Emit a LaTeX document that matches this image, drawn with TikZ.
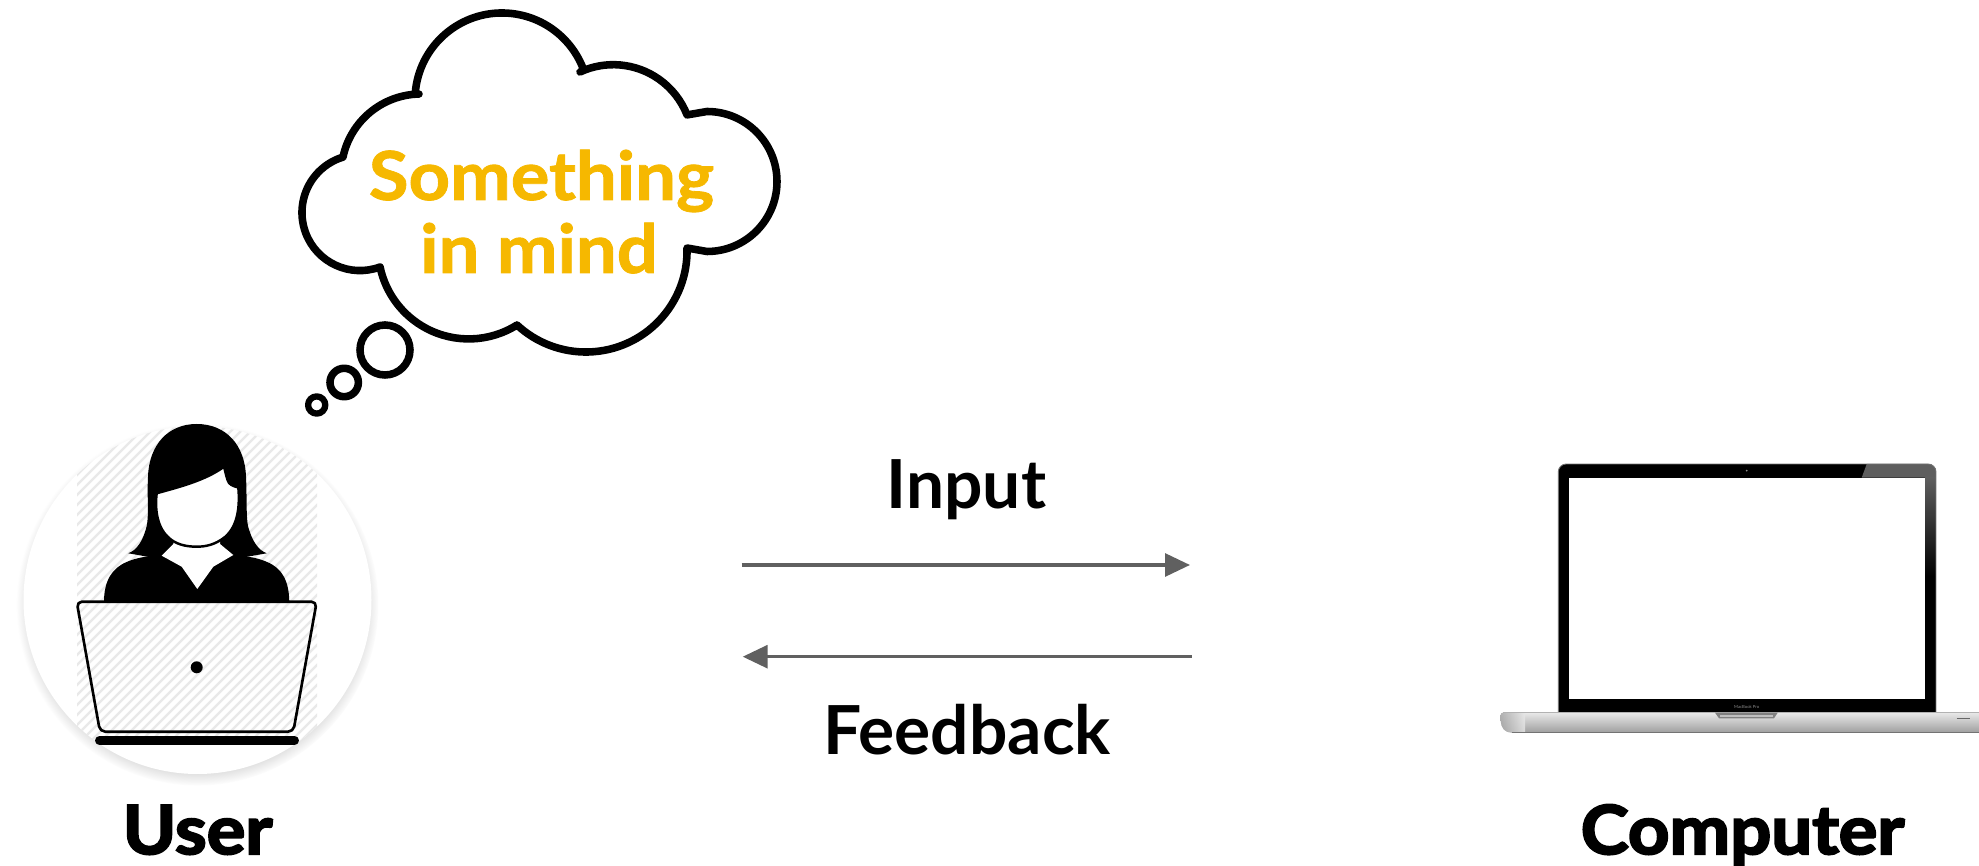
\documentclass[tikz,border=0pt]{standalone}
\usepackage{fontspec}
\setmainfont{Lato}
\newfontfamily\heavyfont[BoldFeatures={FakeBold=3}]{Lato}
\newfontfamily\semiheavyfont[BoldFeatures={FakeBold=1.2}]{Lato}
\usetikzlibrary{arrows.meta,shadows}
\definecolor{thought}{HTML}{F6B800}
\definecolor{flow}{HTML}{606060}
\definecolor{hatch}{HTML}{E9E9E9}
\begin{document}
\begin{tikzpicture}[x=0.02cm,y=0.02cm,
  outline/.style={draw=black,line width=4.3pt,line join=round},
  flowarrow/.style={draw=flow,line width=1.9pt,-{Triangle[length=14.2pt,width=13pt]}},
  caption/.style={anchor=base,inner sep=0pt,font=\fontsize{38.5}{44}\selectfont\bfseries},
  heavycaption/.style={anchor=base,inner sep=0pt,xscale=1.07,font=\fontsize{38.5}{44}\selectfont\heavyfont\bfseries},
  thoughttext/.style={anchor=base,inner sep=0pt,text=thought,xscale=1.07,font=\fontsize{38.5}{44}\selectfont\semiheavyfont\bfseries},
  stripe/.style={draw=hatch,line width=1.3pt}
]
\useasboundingbox (0,0) rectangle (1979,866);

% ---------- user badge ----------
\fill[white,circular drop shadow={shadow xshift=0pt,shadow yshift=-2.5pt,shadow scale=1.04,opacity=0.5}]
  (197.5,266) circle[radius=174];
\begin{scope}
  \clip (197.5,266) circle[radius=174];
  \clip (77,121) rectangle (317,441);
  \foreach \k in {-36,...,26} { \draw[stripe] ({77+\k*10},121) -- ++(330,330); }
\end{scope}

% hair
\fill[black] (196.7,442) .. controls (226,442) and (245,421) .. (246,389.3)
  .. controls (247,370) and (246,350) .. (248,340)
  .. controls (252,325) and (258,316) .. (266.7,312.7)
  -- (240,308) -- (155,308) -- (128.3,312.7)
  .. controls (137,316) and (143,325) .. (146.7,340)
  .. controls (149,350) and (147,370) .. (148,389.3)
  .. controls (149,421) and (168,442) .. (196.7,442) -- cycle;
% shoulders
\fill[black] (104,264.3) .. controls (104,285) and (112,298) .. (126.7,304)
  .. controls (140,310) and (160,312) .. (197,312)
  .. controls (234,312) and (254,310) .. (267,304)
  .. controls (282,298) and (289,285) .. (289.3,264.3) -- cycle;
% collar
\fill[white] (173.3,330) -- (173.3,322) -- (161.7,310.3) -- (181.7,299.3) -- (197.3,277)
  -- (213.3,299.3) -- (233.3,311) -- (220,322) -- (220,330) -- cycle;
% face
\filldraw[fill=white,draw=black,line width=1.4pt] (156.7,372.7)
  .. controls (175,378) and (205,385) .. (224,399.3)
  .. controls (226,392) and (227,386) .. (229,383)
  .. controls (232,380) and (236,379) .. (238.3,378.7)
  .. controls (240,360) and (238,340) .. (225,329)
  .. controls (215,321) and (205,319.3) .. (196.7,319.3)
  .. controls (185,319.3) and (175,322) .. (168,329)
  .. controls (156,340) and (155,360) .. (156.7,372.7) -- cycle;
% laptop in front of the user
\draw[line width=1.5pt,rounded corners=3pt,line join=round]
  (76.7,264.3) -- (316.7,264.3) -- (293.3,134.3) -- (100,134.3) -- cycle;
\fill[black] (196.7,198.7) circle[radius=6];
\draw[line width=5.1pt,line cap=round] (99.5,125.5) -- (294.5,125.5);

% ---------- thought cloud ----------
\draw[outline] (415.2,772.1) arc[start angle=176,end angle=20,radius=87]
  -- (580,794) arc[start angle=114.8,end angle=21.5,radius=79.3]
  -- (707,754.5) arc[start angle=90,end angle=-90,radius=70]
  -- (687,618) arc[start angle=1.6,end angle=-132.9,radius=101.2]
  -- (517,541) arc[start angle=-57.8,end angle=-168.1,radius=90.6]
  -- (380,599) arc[start angle=-69.8,end angle=-253,radius=58]
  -- (343,709) arc[start angle=167.9,end angle=91.4,radius=79.7]
  -- cycle;
\draw[outline] (385,516) circle[radius=25];
\draw[outline] (344.2,483.5) circle[radius=14.2];
\draw[outline,line width=3.6pt] (316.7,461) circle[radius=8.6];
\node[thoughttext] (something) at (541.5,666) {Something};
\node[thoughttext] (inmind) at (539,593) {in mind};

% ---------- computer ----------
\begin{scope}
  \clip[rounded corners=4.5pt] (1558.3,140) rectangle (1936,402);
  \fill[black] (1558.3,140) rectangle (1936,402);
  \fill[black!63] (1866.7,402) -- (1936,402) -- (1936,388.3) -- (1861.7,388.3) -- cycle;
  \shade[top color=black!63,bottom color=black] (1925,388.3) rectangle (1936,290);
\end{scope}
\draw[black!55,line width=0.5pt,rounded corners=4.5pt] (1558.3,153.3) -- (1558.3,402) -- (1936,402) -- (1936,153.3);
\fill[white] (1569.3,166.7) rectangle (1925,388.3);
\fill[black!45] (1746.7,395.3) circle[radius=1];
\node[inner sep=0pt,text=black!45,font=\fontsize{2.4}{3}\selectfont] (brand) at (1746.7,159.5) {MacBook Pro};
% base
\shade[top color=black!9,bottom color=black!38]
  (1503,153.3) -- (1979,153.3) -- (1979,133.3) -- (1512,133.3)
  .. controls (1505,133.3) and (1501,138) .. (1500.7,145) -- (1500.7,151)
  .. controls (1500.7,152.5) and (1501.5,153.3) .. (1503,153.3) -- cycle;
\shade[left color=black!35,right color=black!9,opacity=0.8]
  (1503,153.3) -- (1525,153.3) -- (1525,133.3) -- (1512,133.3)
  .. controls (1505,133.3) and (1501,138) .. (1500.7,145) -- (1500.7,151)
  .. controls (1500.7,152.5) and (1501.5,153.3) .. (1503,153.3) -- cycle;
\draw[black!55,line width=0.6pt] (1512,133.6) -- (1979,133.6);
\draw[black!30,line width=0.5pt] (1503,153.1) -- (1979,153.1);
\fill[black!50] (1715,153.3) -- (1777.7,153.3) -- (1774,147.7) -- (1719,147.7) -- cycle;
\fill[black!25] (1720,150.5) rectangle (1772.7,148.5);
\draw[black!60,line width=0.9pt] (1956.7,147.7) -- (1970,147.7);

% ---------- exchange ----------
\coordinate (inStart) at (741.7,301);
\coordinate (inEnd) at (1190,301);
\coordinate (fbStart) at (1191.7,209.3);
\coordinate (fbEnd) at (742.7,209.3);
\draw[flowarrow] (inStart) -- (inEnd);
\draw[flowarrow] (fbStart) -- (fbEnd);
\node[caption] (input) at (966.5,357.7) {Input};
\node[caption] (feedback) at (967,111) {Feedback};

% ---------- captions ----------
\node[heavycaption] (user) at (197.5,12) {User};
\node[heavycaption] (computer) at (1742.5,12) {Computer};
\end{tikzpicture}
\end{document}
